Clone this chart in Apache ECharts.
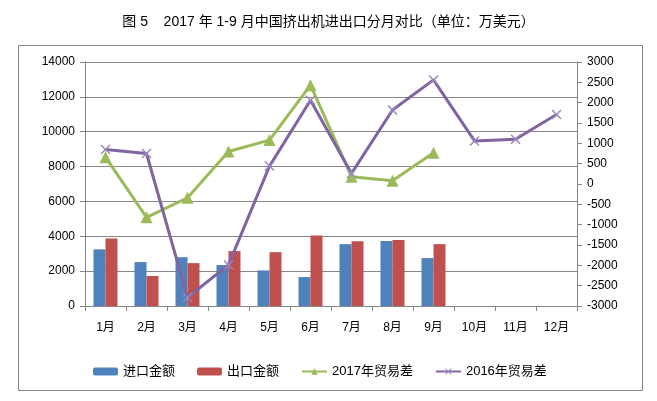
<!DOCTYPE html>
<html lang="zh">
<head>
<meta charset="UTF-8">
<title>挤出机进出口</title>
<script src="https://cdn.jsdelivr.net/npm/echarts@6/dist/echarts.min.js"></script>
</head>
<body style="margin:0">
<div id="main" style="width:657px;height:401px"></div>
<script>
// 月份
var months = ['1月', '2月', '3月', '4月', '5月', '6月', '7月', '8月', '9月', '10月', '11月', '12月'];
// 2017 年进口 / 出口金额（万美元）
var importVals = [3250, 2520, 2800, 2350, 2040, 1660, 3550, 3730, 2750];
var exportVals = [3880, 1720, 2460, 3150, 3090, 4050, 3720, 3780, 3550];
// 贸易差
var diff2017 = [660, -820, -340, 800, 1080, 2430, 180, 80, 770];
var diff2016 = [850, 750, -2790, -1990, 440, 2060, 260, 1820, 2560, 1060, 1100, 1710];

var font = 'Liberation Sans, Noto Sans CJK SC, sans-serif';
var gridColor = '#868686';
var xMark = 'path://M0,1L1,0L5,4L9,0L10,1L6,5L10,9L9,10L5,6L1,10L0,9L4,5Z';

function plain(v) { return String(v); }

var myChart = echarts.init(document.getElementById('main'));
var option = {
    animation: false,
    textStyle: { fontFamily: font, color: '#000' },
    title: {
        text: '图 5    2017 年 1-9 月中国挤出机进出口分月对比（单位：万美元）',
        left: 'center',
        top: 10,
        textStyle: { fontSize: 14, fontWeight: 'normal', color: '#000', fontFamily: font }
    },
    graphic: [{
        type: 'rect',
        shape: { x: 18.5, y: 45.5, width: 624, height: 345 },
        style: { fill: 'none', stroke: gridColor, lineWidth: 1 },
        silent: true
    }],
    legend: {
        left: 88,
        top: 360,
        itemWidth: 25,
        itemHeight: 8,
        itemGap: 22,
        textStyle: { fontSize: 13, color: '#000' },
        data: ['进口金额', '出口金额', '2017年贸易差', '2016年贸易差']
    },
    grid: { left: 85, right: 80, top: 62, bottom: 95 },
    xAxis: {
        type: 'category',
        data: months,
        axisLine: { lineStyle: { color: gridColor } },
        axisTick: { show: true, length: 5, lineStyle: { color: gridColor } },
        axisLabel: { fontSize: 12, color: '#000', margin: 16 }
    },
    yAxis: [{
        type: 'value',
        min: 0,
        max: 14000,
        interval: 2000,
        axisLine: { show: true, lineStyle: { color: gridColor } },
        axisTick: { show: true, length: 5, lineStyle: { color: gridColor } },
        axisLabel: { fontSize: 12, color: '#000', margin: 10, formatter: plain },
        splitLine: { lineStyle: { color: gridColor } }
    }, {
        type: 'value',
        min: -3000,
        max: 3000,
        interval: 500,
        axisLine: { show: true, lineStyle: { color: gridColor } },
        axisTick: { show: true, length: 5, lineStyle: { color: gridColor } },
        axisLabel: { fontSize: 12, color: '#000', margin: 10, formatter: plain },
        splitLine: { show: false }
    }],
    series: [{
        name: '进口金额',
        type: 'bar',
        data: importVals,
        barWidth: 12,
        barGap: '0%',
        itemStyle: { color: '#4F81BD' }
    }, {
        name: '出口金额',
        type: 'bar',
        data: exportVals,
        barWidth: 12,
        itemStyle: { color: '#C0504D' }
    }, {
        name: '2017年贸易差',
        type: 'line',
        yAxisIndex: 1,
        data: diff2017,
        symbol: 'triangle',
        symbolSize: 12,
        lineStyle: { width: 3, color: '#9BBB59' },
        itemStyle: { color: '#9BBB59' }
    }, {
        name: '2016年贸易差',
        type: 'line',
        yAxisIndex: 1,
        data: diff2016,
        symbol: xMark,
        symbolSize: 10,
        lineStyle: { width: 3, color: '#8064A2' },
        itemStyle: { color: '#9A86BC' }
    }]
};
myChart.setOption(option);
</script>
</body>
</html>
